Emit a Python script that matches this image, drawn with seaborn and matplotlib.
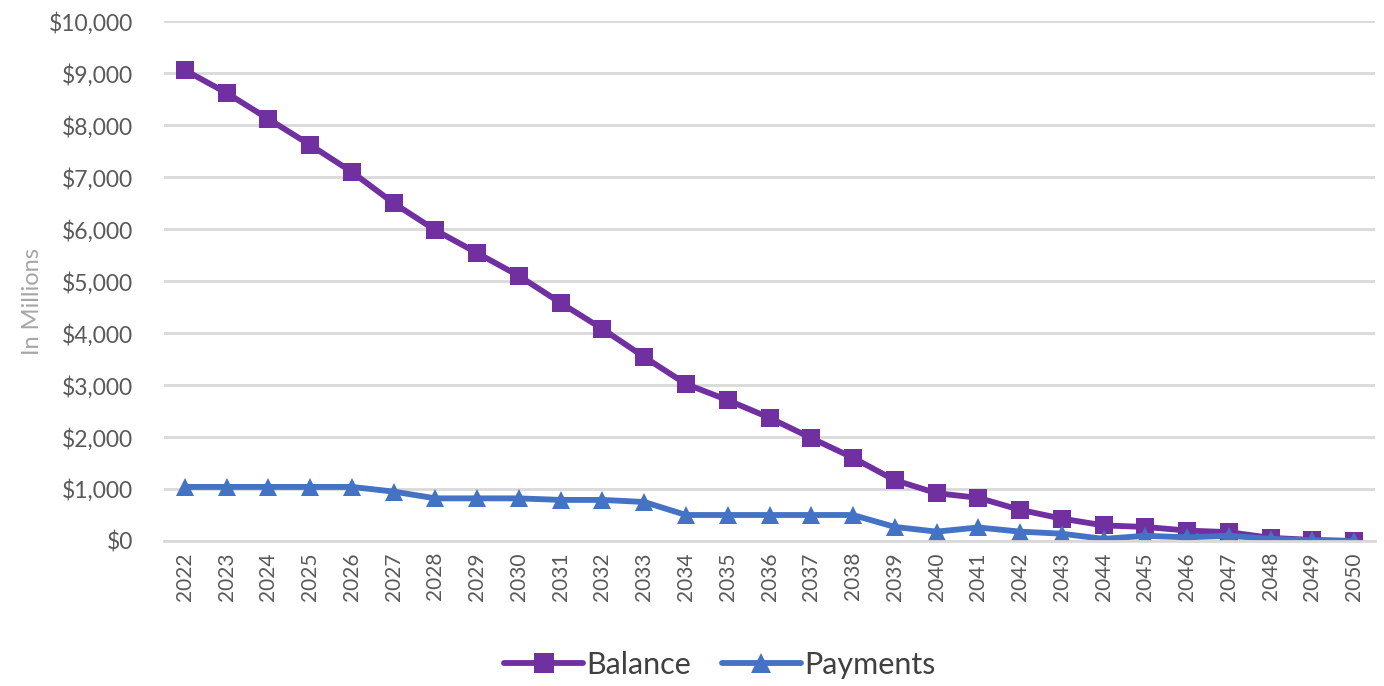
import matplotlib
matplotlib.use("Agg")
import matplotlib.pyplot as plt
import seaborn as sns
import pandas as pd
import numpy as np
from matplotlib.ticker import FuncFormatter, FixedLocator

# data (in millions)
years = list(range(2022, 2051))
balance = [9060, 8620, 8120, 7620, 7100, 6500, 5980, 5540, 5100, 4580,
           4080, 3540, 3020, 2710, 2370, 1980, 1600, 1170, 920, 830,
           600, 430, 300, 270, 200, 170, 60, 20, 0]
payments = [1040, 1040, 1040, 1040, 1040, 950, 820, 820, 820, 790,
            790, 750, 500, 500, 500, 500, 500, 270, 180, 260,
            180, 140, 40, 100, 70, 100, 40, 10, 0]
series_names = ["Balance", "Payments"]
colors = {"Balance": "#7030A0", "Payments": "#4472C4"}
markers = {"Balance": "s", "Payments": "^"}

df = pd.DataFrame({"Year": years * 2,
                   "Value": balance + payments,
                   "Series": ["Balance"] * len(years) + ["Payments"] * len(years)})

sns.set_style("white")
plt.rcParams['font.family'] = ['Lato', 'DejaVu Sans']

fig = plt.figure(figsize=(13.84, 6.86), dpi=100)
ax = fig.add_axes([0.1185, 0.2114, 0.875, 0.7576])

sns.lineplot(data=df, x="Year", y="Value", hue="Series", style="Series",
             hue_order=series_names, style_order=series_names,
             palette=colors, markers=markers, dashes=False,
             linewidth=4.2, markersize=13, markeredgewidth=0, ax=ax, legend=False)

ax.set_ylim(0, 10000)
ax.set_xlim(years[0] - 0.5, years[-1] + 0.5)
ax.set_yticks(np.arange(0, 10001, 1000))
ax.yaxis.set_major_formatter(FuncFormatter(lambda v, p: f"${v:,.0f}"))
ax.yaxis.grid(True, color="#D9D9D9", linewidth=2)
ax.set_axisbelow(True)

ax.set_xticks(years)
ax.set_xticklabels([str(y) for y in years], rotation=90)
ax.xaxis.set_minor_locator(FixedLocator(np.arange(years[0] - 0.5, years[-1] + 1, 1)))
ax.tick_params(axis="x", which="major", length=0, labelsize=15, labelcolor="#595959", pad=8)
ax.tick_params(axis="x", which="minor", length=6, width=1.5, color="#D9D9D9", direction="out")
ax.tick_params(axis="y", length=0, labelsize=16.5, labelcolor="#595959", pad=22)

for s in ["top", "right", "left"]:
    ax.spines[s].set_visible(False)
ax.spines["bottom"].set_color("#D9D9D9")
ax.spines["bottom"].set_linewidth(2)

ax.set_xlabel("")
ax.set_ylabel("In Millions", fontsize=17, color="#A6A6A6")
ax.yaxis.set_label_coords(-0.1, 0.46)

handles = [plt.Line2D([], [], color=colors[n], marker=markers[n], linewidth=4.2,
                      markersize=14, markeredgewidth=0) for n in series_names]
fig.legend(handles, series_names, loc="lower center", ncol=2, frameon=False,
           fontsize=22, bbox_to_anchor=(0.52, -0.03), handlelength=2.6,
           handletextpad=0.1, columnspacing=1.0, labelcolor="#404040")

fig.savefig("out.png", dpi=100)
